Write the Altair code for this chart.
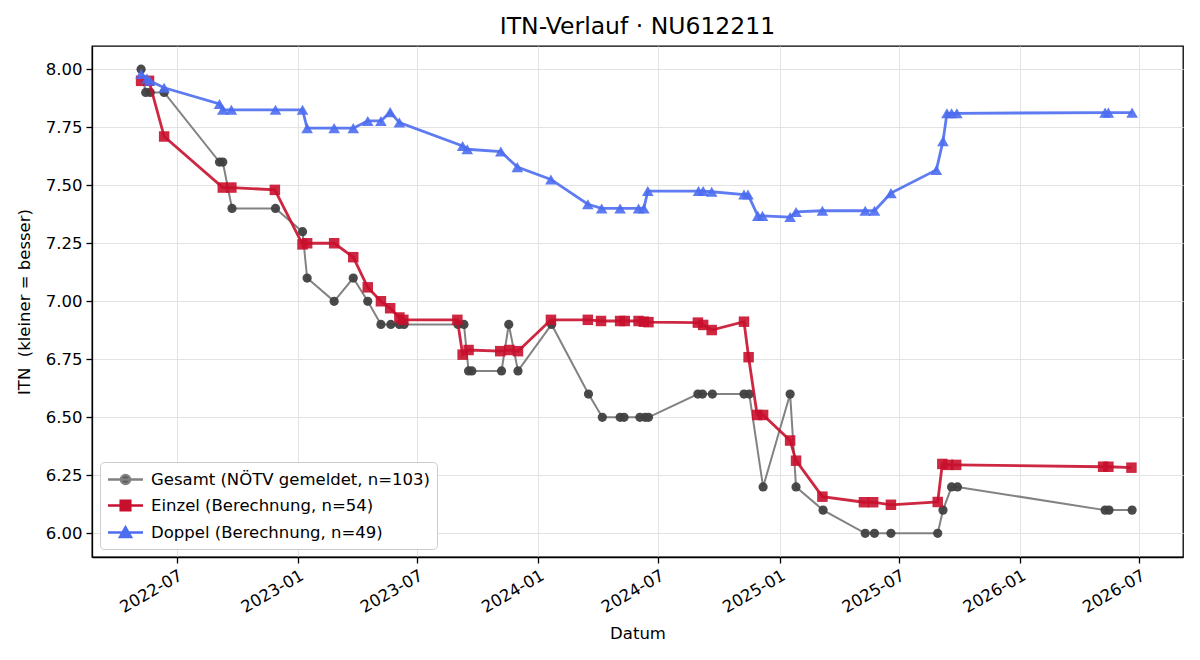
import altair as alt
import pandas as pd

# ITN history per category
series_names = [
    "Gesamt (NÖTV gemeldet, n=103)",
    "Einzel (Berechnung, n=54)",
    "Doppel (Berechnung, n=49)",
]

gesamt_dates = [
    "2022-05-08", "2022-05-15", "2022-05-22", "2022-06-12", "2022-09-04", "2022-09-09",
    "2022-09-23", "2022-11-28", "2023-01-08", "2023-01-15", "2023-02-25", "2023-03-26",
    "2023-04-17", "2023-05-07", "2023-05-22", "2023-06-04", "2023-06-11", "2023-09-01",
    "2023-09-10", "2023-09-17", "2023-09-22", "2023-11-06", "2023-11-17", "2023-12-01",
    "2024-01-21", "2024-03-17", "2024-04-07", "2024-05-04", "2024-05-10", "2024-06-03",
    "2024-06-11", "2024-06-16", "2024-08-30", "2024-09-06", "2024-09-21", "2024-11-08",
    "2024-11-16", "2024-12-07", "2025-01-17", "2025-01-26", "2025-03-08", "2025-05-11",
    "2025-05-25", "2025-06-19", "2025-08-29", "2025-09-06", "2025-09-19", "2025-09-28",
    "2026-05-10", "2026-05-16", "2026-06-20",
]
gesamt_itn = [
    8.00, 7.90, 7.90, 7.90, 7.60, 7.60,
    7.40, 7.40, 7.30, 7.10, 7.00, 7.10,
    7.00, 6.90, 6.90, 6.90, 6.90, 6.90,
    6.90, 6.70, 6.70, 6.70, 6.90, 6.70,
    6.90, 6.60, 6.50, 6.50, 6.50, 6.50,
    6.50, 6.50, 6.60, 6.60, 6.60, 6.60,
    6.60, 6.20, 6.60, 6.20, 6.10, 6.00,
    6.00, 6.00, 6.00, 6.10, 6.20, 6.20,
    6.10, 6.10, 6.10,
]

einzel_dates = [
    "2022-05-08", "2022-05-20", "2022-06-12", "2022-09-09", "2022-09-22", "2022-11-27",
    "2023-01-08", "2023-01-15", "2023-02-25", "2023-03-26", "2023-04-17", "2023-05-07",
    "2023-05-21", "2023-06-04", "2023-06-10", "2023-08-31", "2023-09-08", "2023-09-17",
    "2023-11-04", "2023-11-18", "2023-12-01", "2024-01-20", "2024-03-16", "2024-04-05",
    "2024-05-04", "2024-05-11", "2024-06-01", "2024-06-09", "2024-06-16", "2024-08-30",
    "2024-09-07", "2024-09-20", "2024-11-08", "2024-11-15", "2024-11-28", "2024-12-07",
    "2025-01-17", "2025-01-26", "2025-03-07", "2025-05-09", "2025-05-23", "2025-06-19",
    "2025-08-29", "2025-09-05", "2025-09-14", "2025-09-26", "2026-05-07", "2026-05-15",
    "2026-06-19",
]
einzel_itn = [
    7.95, 7.95, 7.71, 7.49, 7.49, 7.48,
    7.245, 7.25, 7.25, 7.19, 7.06, 7.00,
    6.97, 6.93, 6.92, 6.92, 6.77, 6.79,
    6.785, 6.79, 6.785, 6.92, 6.92, 6.915,
    6.915, 6.915, 6.915, 6.912, 6.91, 6.908,
    6.898, 6.876, 6.912, 6.759, 6.51, 6.51,
    6.40, 6.313, 6.158, 6.134, 6.134, 6.123,
    6.135, 6.299, 6.295, 6.295, 6.287, 6.287,
    6.283,
]

doppel_dates = [
    "2022-05-08", "2022-05-17", "2022-05-21", "2022-06-12", "2022-09-04", "2022-09-09",
    "2022-09-22", "2022-11-28", "2023-01-08", "2023-01-15", "2023-02-25", "2023-03-26",
    "2023-04-17", "2023-05-07", "2023-05-21", "2023-06-04", "2023-09-08", "2023-09-15",
    "2023-11-05", "2023-11-30", "2024-01-20", "2024-03-16", "2024-04-06", "2024-05-04",
    "2024-06-01", "2024-06-09", "2024-06-15", "2024-08-31", "2024-09-07", "2024-09-20",
    "2024-11-08", "2024-11-14", "2024-11-29", "2024-12-06", "2025-01-17", "2025-01-26",
    "2025-03-07", "2025-05-11", "2025-05-25", "2025-06-19", "2025-08-27", "2025-09-06",
    "2025-09-12", "2025-09-19", "2025-09-27", "2026-05-10", "2026-05-15", "2026-06-20",
]
doppel_itn = [
    7.98, 7.96, 7.95, 7.92, 7.85, 7.825,
    7.825, 7.825, 7.825, 7.746, 7.746, 7.746,
    7.777, 7.777, 7.815, 7.77, 7.669, 7.655,
    7.645, 7.578, 7.525, 7.418, 7.40, 7.40,
    7.40, 7.40, 7.475, 7.475, 7.475, 7.472,
    7.46, 7.46, 7.368, 7.368, 7.363, 7.385,
    7.39, 7.39, 7.39, 7.466, 7.566, 7.69,
    7.81, 7.81, 7.81, 7.813, 7.813, 7.813,
]

y_ticks = [6.00, 6.25, 6.50, 6.75, 7.00, 7.25, 7.50, 7.75, 8.00]
x_tick_months = [(2022, 7), (2023, 1), (2023, 7), (2024, 1), (2024, 7),
                 (2025, 1), (2025, 7), (2026, 1), (2026, 7)]

FONT = "DejaVu Sans"
GRAY_LINE = "#7b7b7b"
GRAY_MARK = "#404040"
RED = "#c8102e"
BLUE = "#4d6df0"

frames = []
for name, dates, vals in [
    (series_names[0], gesamt_dates, gesamt_itn),
    (series_names[1], einzel_dates, einzel_itn),
    (series_names[2], doppel_dates, doppel_itn),
]:
    frames.append(pd.DataFrame({"date": dates, "itn": vals, "series": name}))
data = pd.concat(frames, ignore_index=True)

x_enc = alt.X(
    "date:T",
    title="Datum",
    scale=alt.Scale(
        type="utc",
        domain=[
            alt.DateTime(year=2022, month=2, date=22, hours=12, utc=True),
            alt.DateTime(year=2026, month=9, date=5, hours=6, utc=True),
        ],
    ),
    axis=alt.Axis(
        values=[alt.DateTime(year=y, month=m, date=1, utc=True) for y, m in x_tick_months],
        format="%Y-%m",
        labelAngle=330,
        labelAlign="right",
        labelBaseline="top",
        titlePadding=10,
    ),
)
y_enc = alt.Y(
    "itn:Q",
    title="ITN\u00a0 (kleiner = besser)",
    scale=alt.Scale(domain=[5.898, 8.1], nice=False, zero=False),
    axis=alt.Axis(values=y_ticks, format=".2f", titlePadding=13),
)

base = alt.Chart(data).encode(x=x_enc, y=y_enc)


def series_layers(name, line_color, line_width, shape, size, mark_color, opacity):
    sub = base.transform_filter(alt.datum.series == name)
    line = sub.mark_line(color=line_color, strokeWidth=line_width, opacity=opacity)
    pts = sub.mark_point(
        shape=shape, size=size, filled=True, color=mark_color, opacity=opacity
    )
    return [line, pts]


layers = []
layers += series_layers(series_names[0], GRAY_LINE, 2.0, "circle", 85, GRAY_MARK, 0.95)
layers += series_layers(series_names[1], RED, 2.8, "square", 110, RED, 0.9)
layers += series_layers(series_names[2], BLUE, 2.8, "triangle-up", 135, BLUE, 0.9)

# Legend entries: a short line with the series marker in its middle
legend_paths = [
    "M-1.75,0L1.75,0M0.45,0A0.45,0.45,0,1,1,-0.45,0A0.45,0.45,0,1,1,0.45,0Z",
    "M-1.75,0L1.75,0M-0.48,-0.48L0.48,-0.48L0.48,0.48L-0.48,0.48Z",
    "M-1.75,0L1.75,0M0,-0.52L0.55,0.46L-0.55,0.46Z",
]
legend_def = alt.Legend(
    title=None,
    orient="none",
    legendX=8,
    legendY=416,
    padding=6,
    rowPadding=5,
    fillColor="white",
    strokeColor="#cccccc",
    cornerRadius=4,
    symbolSize=400,
    symbolStrokeWidth=2.5,
    symbolOffset=8,
    labelOffset=14,
    labelLimit=500,
    labelFont=FONT,
    labelFontSize=16.5,
    labelColor="black",
)
legend_layer = base.transform_filter("false").mark_point(filled=True, opacity=1).encode(
    fill=alt.Fill("series:N", scale=alt.Scale(domain=series_names, range=["#5a5a5a", RED, BLUE]), legend=legend_def),
    stroke=alt.Stroke("series:N", scale=alt.Scale(domain=series_names, range=["#808080", RED, BLUE]), legend=legend_def),
    shape=alt.Shape("series:N", scale=alt.Scale(domain=series_names, range=legend_paths), legend=legend_def),
)
layers.append(legend_layer)

chart = (
    alt.layer(*layers)
    .properties(
        width=1091,
        height=511,
        autosize=alt.AutoSizeParams(type="none"),
        padding={"left": 92, "top": 46, "right": 17, "bottom": 103},
        title=alt.TitleParams(
            "ITN-Verlauf · NU612211",
            font=FONT,
            fontSize=23.5,
            fontWeight="normal",
            color="black",
            anchor="middle",
            offset=8,
        ),
    )
    .configure(background="white")
    .configure_view(stroke="black", strokeWidth=1.3)
    .configure_axis(
        labelFont=FONT,
        titleFont=FONT,
        labelFontSize=16.5,
        titleFontSize=16.5,
        titleFontWeight="normal",
        labelColor="black",
        titleColor="black",
        domainColor="black",
        domainWidth=1.3,
        tickColor="black",
        tickWidth=1.3,
        tickSize=6,
        labelPadding=4,
        gridColor="#e3e3e3",
        gridWidth=1,
    )
)

chart.save("out.html", embed_options={"renderer": "svg", "actions": False})
